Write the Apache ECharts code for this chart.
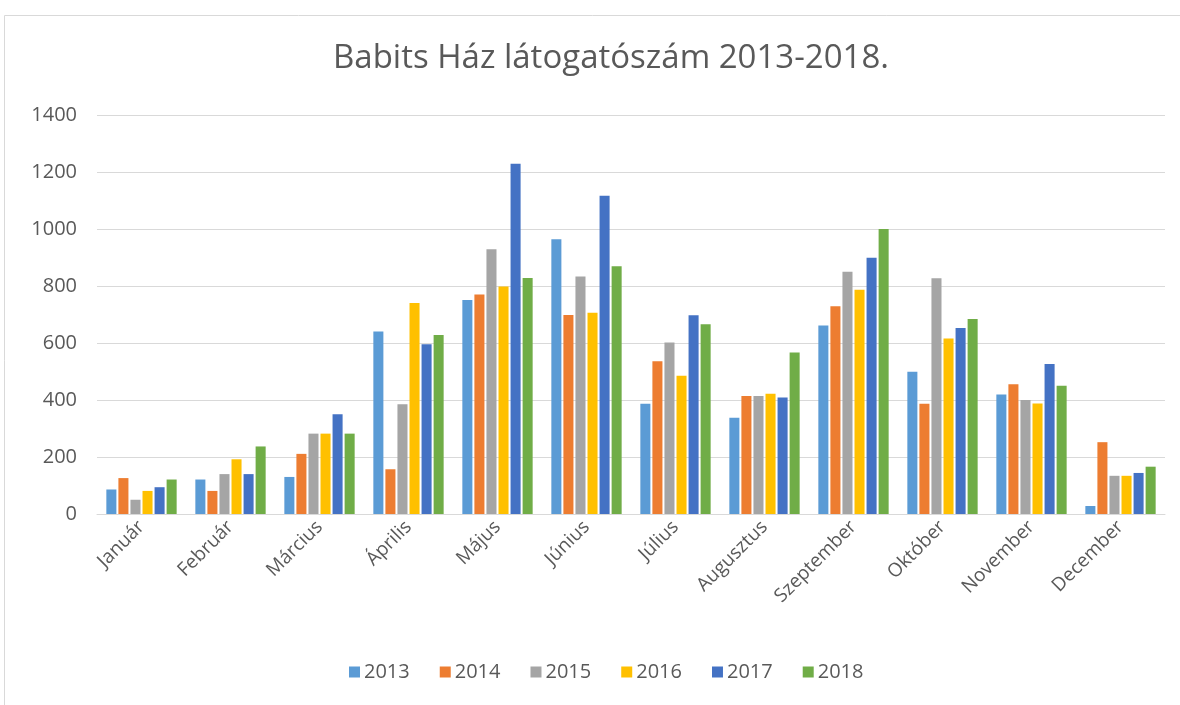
<!DOCTYPE html>
<html>
<head>
<meta charset="utf-8">
<script src="https://cdn.jsdelivr.net/npm/echarts@6/dist/echarts.min.js"></script>
<style>
  html, body { margin: 0; padding: 0; background: #fff; }
  #chart { width: 1180px; height: 705px; }
</style>
</head>
<body>
<div id="chart"></div>
<script>
const months = ['Január', 'Február', 'Március', 'Április', 'Május', 'Június',
  'Július', 'Augusztus', 'Szeptember', 'Október', 'November', 'December']
const years = ['2013', '2014', '2015', '2016', '2017', '2018']
const colors = ['#5b9bd5', '#ed7d31', '#a5a5a5', '#ffc000', '#4472c4', '#70ad47']

const v2013 = [86, 121, 130, 640, 751, 964, 387, 338, 661, 499, 419, 28]
const v2014 = [126, 81, 211, 157, 770, 698, 536, 414, 729, 387, 455, 252]
const v2015 = [50, 140, 282, 385, 929, 833, 602, 414, 850, 827, 400, 134]
const v2016 = [81, 192, 282, 740, 798, 706, 485, 422, 787, 616, 388, 134]
const v2017 = [94, 140, 350, 596, 1229, 1117, 697, 409, 899, 653, 526, 144]
const v2018 = [121, 237, 282, 628, 828, 869, 666, 567, 1000, 684, 450, 166]
const values = [v2013, v2014, v2015, v2016, v2017, v2018]

const yTicks = [0, 200, 400, 600, 800, 1000, 1200, 1400]

const font = 'Open Sans'
const textColor = '#595959'

const myChart = echarts.init(document.getElementById('chart'), null, { renderer: 'canvas' })

myChart.setOption({
  animation: false,
  color: colors,
  title: {
    text: 'Babits Ház látogatószám 2013-2018.',
    left: 328,
    top: 37,
    textStyle: {
      fontFamily: font,
      fontSize: 33,
      fontWeight: 'normal',
      color: textColor
    }
  },
  legend: {
    bottom: 18,
    left: 344,
    itemWidth: 11,
    itemHeight: 11,
    itemGap: 30,
    icon: 'rect',
    data: years,
    textStyle: { fontFamily: font, fontSize: 20, color: textColor, padding: [0, 0, 0, -1] }
  },
  graphic: [{
    type: 'rect',
    shape: { x: 4.5, y: 15.5, width: 1300, height: 800 },
    style: { fill: 'none', stroke: '#d9d9d9', lineWidth: 1 },
    silent: true
  }],
  grid: {
    left: 97,
    right: 15,
    top: 115,
    bottom: 191
  },
  xAxis: {
    type: 'category',
    data: months,
    axisLine: { lineStyle: { color: '#d9d9d9' } },
    axisTick: { show: false },
    axisLabel: {
      rotate: 45,
      interval: 0,
      margin: 10,
      fontFamily: font,
      fontSize: 19,
      color: textColor
    }
  },
  yAxis: {
    type: 'value',
    min: 0,
    max: 1400,
    interval: 200,
    axisLine: { show: false },
    axisTick: { show: false },
    splitLine: { lineStyle: { color: '#d9d9d9' } },
    axisLabel: {
      margin: 20,
      fontFamily: font,
      fontSize: 20,
      color: textColor,
      formatter: v => yTicks.includes(v) ? String(v) : ''
    }
  },
  series: years.map((y, i) => ({
    name: y,
    type: 'bar',
    data: values[i],
    barGap: '20%',
    barCategoryGap: '21%',
    itemStyle: { color: colors[i] }
  }))
})
</script>
</body>
</html>
